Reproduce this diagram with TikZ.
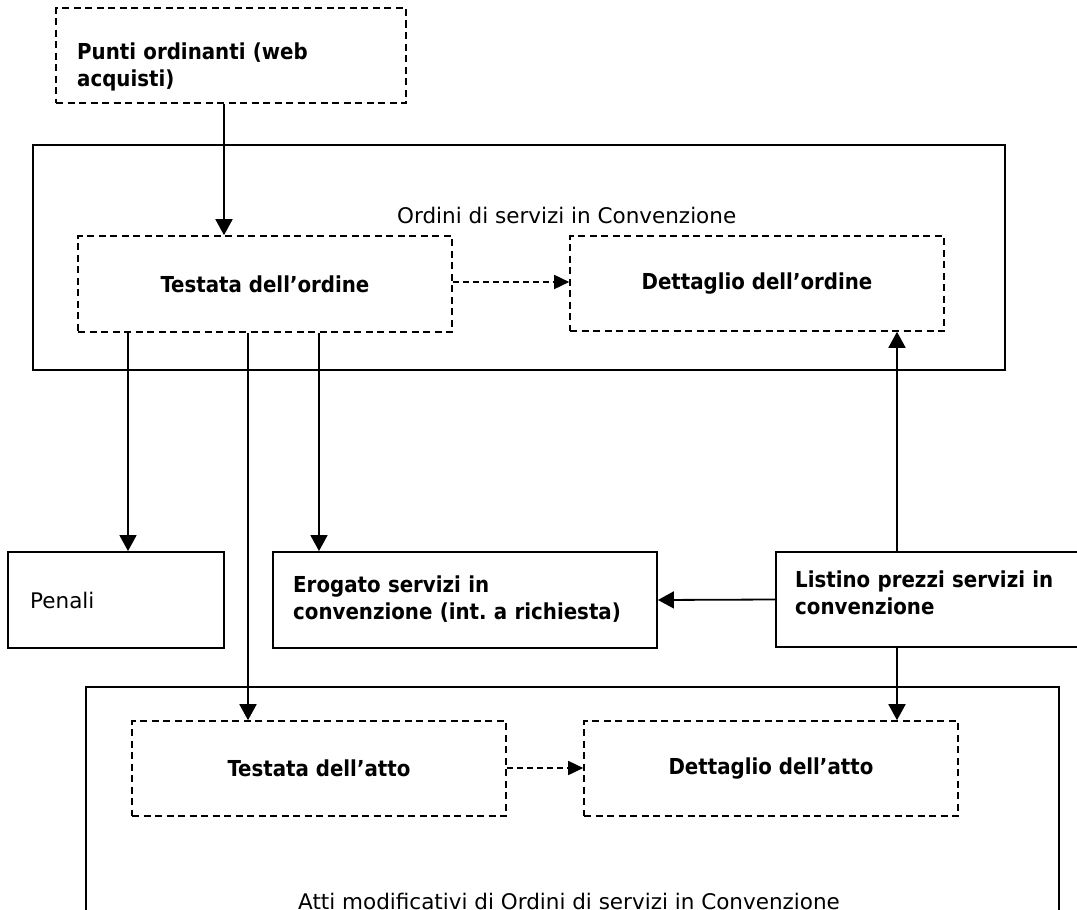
\documentclass[tikz,border=0pt]{standalone}
\usepackage{fontspec}
\setmainfont{DejaVu Sans}
\newfontfamily\condfont{DejaVu Sans Condensed}
\usetikzlibrary{arrows.meta}
\frenchspacing
\tikzset{
  solidbox/.style={draw=black, line width=1.9pt, inner sep=0pt, rectangle},
  dashbox/.style={draw=black, line width=1.6pt, dash pattern=on 7pt off 4.5pt, inner sep=0pt, rectangle,
    font=\condfont\bfseries\fontsize{22}{27.5}\selectfont},
  arr/.style={line width=1.8pt, -{Triangle[length=16pt,width=17pt]}},
  darr/.style={line width=1.6pt, dash pattern=on 6pt off 4pt, -{Triangle[length=15pt,width=14pt]}},
  btext/.style={inner sep=0pt, anchor=base west, align=left, font=\condfont\bfseries\fontsize{22}{27.5}\selectfont},
  rtext/.style={inner sep=0pt, anchor=base west, align=left, font=\fontsize{21.5}{26}\selectfont},
}
\begin{document}
\begin{tikzpicture}[x=1pt, y=-1pt]
\path[use as bounding box, clip] (0,0) rectangle (1077,910);
\fill[white] (0,0) rectangle (1077,910);

% column / row coordinates
\coordinate (c224) at (224,0);
\coordinate (c128) at (128,0);
\coordinate (c248) at (248,0);
\coordinate (c319) at (319,0);
\coordinate (c897) at (897,0);
\coordinate (r282) at (0,282);
\coordinate (r768) at (0,768);

% boxes
\node[dashbox, minimum width=350pt, minimum height=95pt] (punti) at (231,55.5) {};
\node[btext, text width=330pt] (puntiT) at (77,59) {Punti ordinanti (web\\acquisti)};

\node[solidbox, minimum width=972pt, minimum height=225pt] (ordini) at (519,257.5) {};
\node[rtext] (ordiniT) at (397,223) {Ordini di servizi in Convenzione};

\node[dashbox, minimum width=374pt, minimum height=96pt] (testO) at (265,284) {Testata dell’ordine};
\node[dashbox, minimum width=374pt, minimum height=95pt] (detO) at (757,283.5) {Dettaglio dell’ordine};

\node[solidbox, minimum width=216pt, minimum height=96pt] (penali) at (116,600) {};
\node[rtext] (penaliT) at (30,608) {Penali};

\node[solidbox, minimum width=384pt, minimum height=96pt] (erog) at (465,600) {};
\node[btext, text width=360pt] (erogT) at (293,592) {Erogato servizi in\\convenzione (int. a richiesta)};

\node[solidbox, minimum width=314pt, minimum height=95pt] (listino) at (933,599.5) {};
\node[btext, text width=290pt] (listinoT) at (795,587) {Listino prezzi servizi in\\convenzione};

\node[solidbox, minimum width=973pt, minimum height=273pt] (atti) at (572.5,823.5) {};
\node[rtext] (attiT) at (298,909) {Atti modificativi di Ordini di servizi in Convenzione};

\node[dashbox, minimum width=374pt, minimum height=95pt] (testA) at (319,768.5) {Testata dell’atto};
\node[dashbox, minimum width=374pt, minimum height=95pt] (detA) at (771,768.5) {Dettaglio dell’atto};

% connectors
\draw[arr] (punti.south -| c224) -- (testO.north -| c224);
\draw[darr] (testO.east |- r282) -- (detO.west |- r282);
\draw[arr] (testO.south -| c128) -- (penali.north -| c128);
\draw[arr] (testO.south -| c248) -- (testA.north -| c248);
\draw[arr] (testO.south -| c319) -- (erog.north -| c319);
\draw[arr] (listino.north -| c897) -- (detO.south -| c897);
\draw[arr] (listino.west) -- (erog.east);
\draw[arr] (listino.south -| c897) -- (detA.north -| c897);
\draw[darr] (testA.east |- r768) -- (detA.west |- r768);
\end{tikzpicture}
\end{document}
